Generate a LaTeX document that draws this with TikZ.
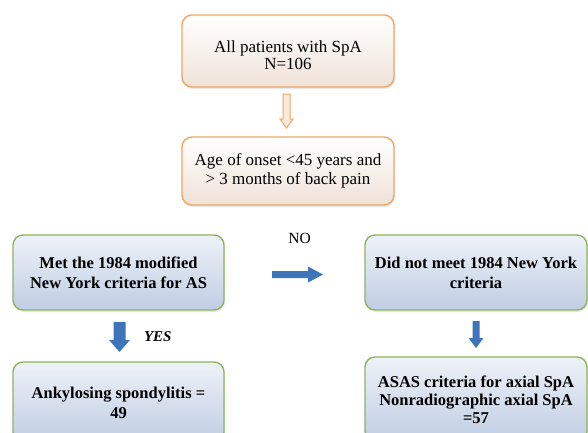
\documentclass[tikz,border=0pt]{standalone}
\usepackage{fontspec}
\setmainfont{Liberation Serif}
\usetikzlibrary{shadows,calc}
\definecolor{obord}{HTML}{F2A663}
\definecolor{gbord}{HTML}{8DB55C}
\definecolor{blarrow}{HTML}{3F73BA}
\definecolor{ofillb}{HTML}{EFE2D8}
\definecolor{oarrfill}{HTML}{FBE9DC}
\definecolor{gfillt}{HTML}{EEF2F8}
\definecolor{gfillb}{HTML}{C0CDE3}
\tikzset{
  boxbase/.style={rounded corners=10pt, line width=1.4pt, align=center, inner sep=0pt,
    drop shadow={opacity=0.18, shadow xshift=1pt, shadow yshift=-2pt}},
  obox/.style={boxbase, draw=obord, top color=white, bottom color=ofillb,
    font=\fontsize{17}{19}\selectfont},
  gbox/.style={boxbase, draw=gbord, top color=gfillt, bottom color=gfillb,
    font=\fontsize{16.5}{20}\selectfont\bfseries},
  btext/.style={font=\fontsize{16.5}{20}\selectfont\bfseries, align=center},
  otext/.style={font=\fontsize{17}{17}\selectfont, align=center},
  barrow/.style={fill=blarrow, draw=none},
  oarrow/.style={fill=oarrfill, draw=obord, line width=1pt, line join=miter},
}
% vertical block arrow: centre, shaft half width, head half width, length, head length, style
\newcommand\vblock[6]{%
  \path[#6] ($(#1)+(-#2,-#4/2)$) -- ($(#1)+(#2,-#4/2)$) -- ($(#1)+(#2,#4/2-#5)$)
    -- ($(#1)+(#3,#4/2-#5)$) -- ($(#1)+(0,#4/2)$) -- ($(#1)+(-#3,#4/2-#5)$)
    -- ($(#1)+(-#2,#4/2-#5)$) -- cycle;}
\newcommand\hblock[6]{%
  \path[#6] ($(#1)+(-#4/2,-#2)$) -- ($(#1)+(-#4/2,#2)$) -- ($(#1)+(#4/2-#5,#2)$)
    -- ($(#1)+(#4/2-#5,#3)$) -- ($(#1)+(#4/2,0)$) -- ($(#1)+(#4/2-#5,-#3)$)
    -- ($(#1)+(#4/2-#5,-#2)$) -- cycle;}
\begin{document}
\begin{tikzpicture}[x=1pt,y=-1pt]
\clip (0,0) rectangle (588,432);
\fill[white] (0,0) rectangle (588,432);
% boxes
\node[obox, minimum width=212pt, minimum height=72pt] (all) at (288,51) {};
\node[otext] (alltext) at (288,55) {All patients with SpA\\N=106};
\node[obox, minimum width=212pt, minimum height=68pt] (age) at (288,171) {Age of onset <45 years and\\> 3 months of back pain};
\node[gbox, minimum width=211pt, minimum height=75pt] (met) at (118.5,272.5) {Met the 1984 modified\\New York criteria for AS};
\node[gbox, minimum width=222pt, minimum height=75pt] (not) at (476,272.5) {Did not meet 1984 New York\\criteria};
\node[gbox, minimum width=211pt, minimum height=80pt] (ank) at (118.5,402) {};
\node[btext] (anktext) at (118.5,403) {Ankylosing spondylitis =\\49};
\node[gbox, minimum width=222pt, minimum height=84pt] (asas) at (476,399) {};
\node[btext, font=\fontsize{16.5}{18}\selectfont\bfseries] (asastext) at (476,400) {ASAS criteria for axial SpA\\Nonradiographic axial SpA\\=57};
% arrows
\coordinate (a1) at ($(all.south)!0.5!(age.north)+(-1.5,-1)$);
\vblock{a1}{3.5}{6.5}{34}{9}{oarrow}
\coordinate (a2) at ($(met.east)!0.5!(not.west)+(3,2)$);
\hblock{a2}{3.5}{8}{51}{15}{barrow}
\node[font=\fontsize{15.5}{17}\selectfont] (no) at ($(a2)+(2,-36)$) {NO};
\coordinate (a3) at ($(met.south)!0.5!(ank.north)+(1,1)$);
\vblock{a3}{6}{10.5}{30}{12}{barrow}
\node[font=\fontsize{15}{17}\selectfont\itshape\bfseries, anchor=west] (yes) at ($(a3)+(21,0)$) {YES};
\coordinate (a4) at ($(not.south)!0.5!(asas.north)+(0,1)$);
\vblock{a4}{3.5}{7.5}{27}{10}{barrow}
\end{tikzpicture}
\end{document}
